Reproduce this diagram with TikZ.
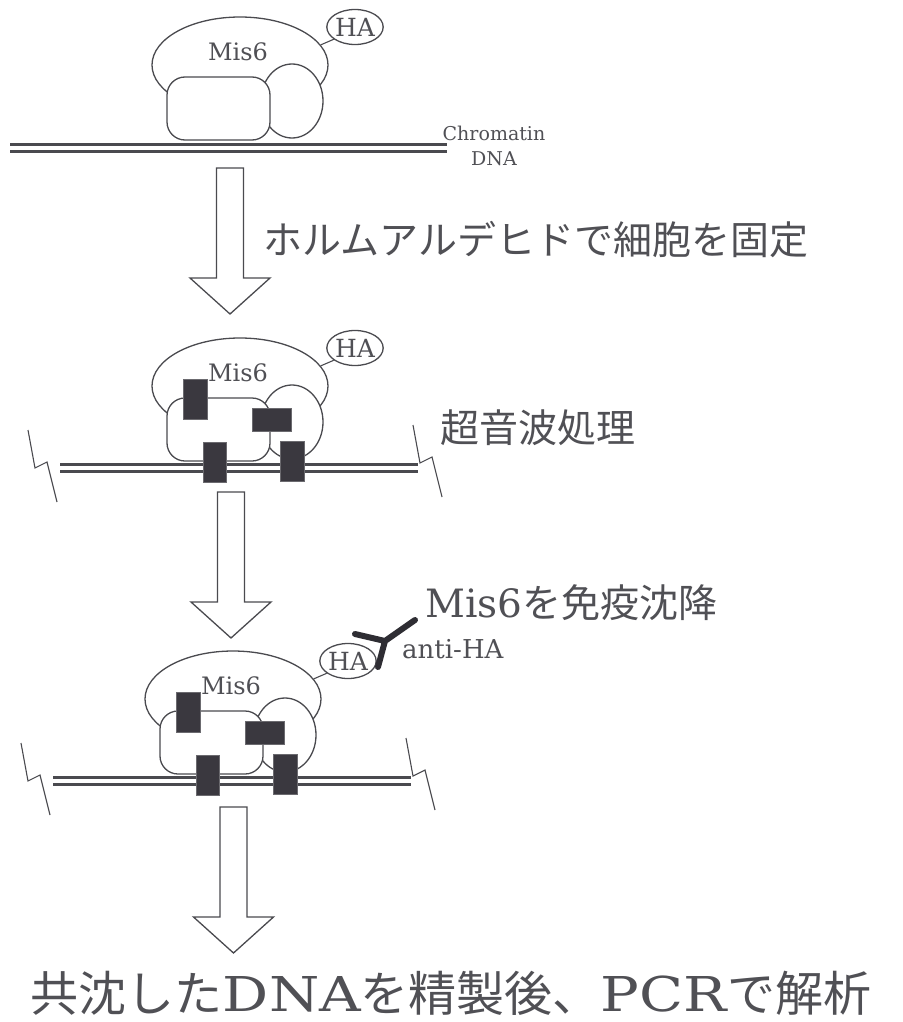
\documentclass[tikz,border=0pt]{standalone}
\usepackage{fontspec}
\setmainfont{DejaVu Serif}
\newfontfamily\jpfont{Noto Sans CJK JP}
\newfontfamily\widefont[FakeStretch=1.2]{DejaVu Serif}
\usepackage{tikz}
\usetikzlibrary{shapes.geometric}
\definecolor{ChipInk}{HTML}{4A4A4F}
\definecolor{ChipText}{HTML}{505055}
\definecolor{ChipLink}{HTML}{3A383F}
\definecolor{ChipAb}{HTML}{2E2D33}
\tikzset{
  outline/.style={draw=ChipInk,line width=1.3pt,fill=white},
  lobe/.style={outline,ellipse,inner sep=0pt},
  core/.style={outline,rectangle,rounded corners=18pt,inner sep=0pt},
  tag/.style={outline,ellipse,inner sep=0pt,minimum width=40pt,minimum height=35pt,
    text=ChipText,font=\fontsize{25}{25}\selectfont},
  crosslink/.style={fill=ChipLink,draw=ChipLink!75,line width=0.6pt,inner sep=0pt},
  dna/.style={draw=ChipInk,line width=3.2pt,double=white,double distance=4.5pt},
  cut/.style={draw=ChipInk,line width=1.1pt,line join=miter},
  antibody/.style={draw=ChipAb,line width=6pt,line cap=round,line join=round},
  steptext/.style={text=ChipText,anchor=west,inner sep=0pt,font=\jpfont\fontsize{39}{41}\selectfont},
  smalltext/.style={text=ChipText,inner sep=0pt,font=\fontsize{24}{26}\selectfont},
  mis6complex/.pic={
    \node[lobe,minimum width=176pt,minimum height=96pt] (-body) at (240,65) {};
    \node[lobe,minimum width=62pt,minimum height=74pt] (-side) at (292,101) {};
    \node[core,minimum width=103pt,minimum height=63pt] (-core) at (218.5,108.5) {};
    \node[smalltext] (-name) at (238,52) {Mis6};
    \node[tag] (-ha) at (355,27) {HA};
    \draw[draw=ChipInk,line width=1.1pt] (-body.14) -- (-ha.210);
  },
  crosslinks/.pic={
    \node[crosslink,minimum width=24pt,minimum height=40pt] (-a) at (195.5,78) {};
    \node[crosslink,minimum width=39pt,minimum height=23pt] (-b) at (272,98.5) {};
    \node[crosslink,minimum width=23pt,minimum height=40pt] (-c) at (215,141) {};
    \node[crosslink,minimum width=24pt,minimum height=40pt] (-d) at (292,140) {};
  },
  cutdna/.pic={
    \draw[dna] (60,147) -- (418,147);
    \draw[cut] (28,109) -- ++(7,38) -- ++(12,-6) -- ++(10,40);
    \draw[cut] (413,104) -- ++(7,38) -- ++(12,-6) -- ++(10,40);
  },
  downarrow/.pic={
    \draw[outline] (-13.5,0) -- (-13.5,110) -- (-40,110) -- (0,146)
      -- (40,110) -- (13.5,110) -- (13.5,0) -- cycle;
  }
}

\begin{document}
\begin{tikzpicture}[x=1pt,y=-1pt]
  \useasboundingbox (0,0) rectangle (902,1022);

  % chromatin before fixing
  \draw[dna] (10,148) -- (447,148);
  \pic (free) at (0,0) {mis6complex};
  \node[text=ChipText,align=center,inner sep=0pt,font=\fontsize{19}{25}\selectfont] (chromatin) at (494,146) {Chromatin\\DNA};

  % crosslinked and sheared
  \pic at (0,321) {cutdna};
  \pic (fixed) at (0,321) {mis6complex};
  \pic (fixedlink) at (0,321) {crosslinks};

  % bound by the antibody
  \pic at (-7,634) {cutdna};
  \pic (bound) at (-7,634) {mis6complex};
  \pic (boundlink) at (-7,634) {crosslinks};
  \coordinate (abfoot) at (378,667);
  \coordinate (abfork) at (385,641);
  \coordinate (ableft) at (355,634);
  \coordinate (abright) at (415,620);
  \draw[antibody] (abfoot) -- (abfork) -- (abright) (ableft) -- (abfork);
  \node[smalltext,anchor=west,font=\fontsize{26}{28}\selectfont] (antiha) at (402,649) {anti-HA};

  \foreach \x/\y in {230/168,231/492,233.5/807}
    \pic at (\x,\y) {downarrow};

  \node[steptext] (fix) at (263,240) {ホルムアルデヒドで細胞を固定};
  \node[steptext] (sonic) at (440,428) {超音波処理};
  \node[steptext] (ip) at (425,603) {{\rmfamily Mis6}を免疫沈降};
  \node[text=ChipText,inner sep=0pt,font=\jpfont\fontsize{48}{50}\selectfont] (result) at (451,993)
    {共沈した{\widefont DNA}を精製後、{\widefont PCR}で解析};
\end{tikzpicture}
\end{document}
